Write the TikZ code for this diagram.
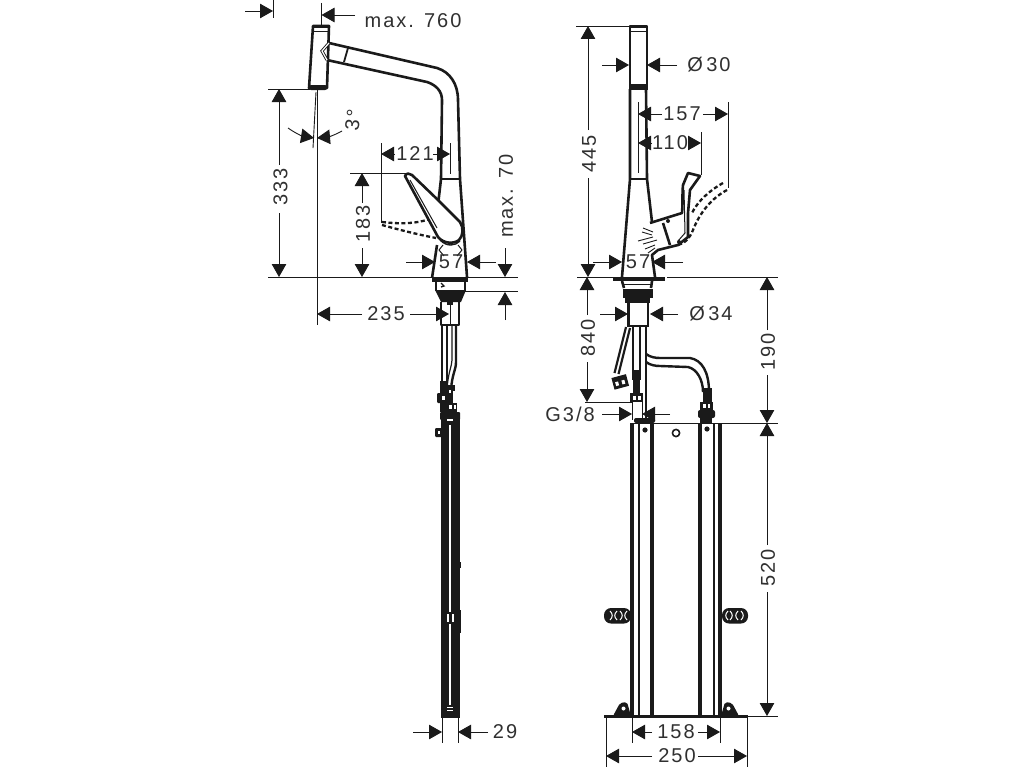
\documentclass[tikz,border=0pt]{standalone}
\usepackage{fontspec}
\setmainfont[LetterSpace=10]{Liberation Sans}
\usetikzlibrary{arrows.meta}
\definecolor{ink}{HTML}{1A1A1A}
\definecolor{txt}{HTML}{303030}
\tikzset{
 arr/.style={draw=ink,line width=0.9pt,-{Triangle[length=13pt,width=14.5pt,fill=ink]}},
 extl/.style={draw=ink,line width=0.9pt},
 thick2/.style={draw=ink,line width=2.6pt,line join=round},
 thin1/.style={draw=ink,line width=1pt},
 dash2/.style={draw=ink,line width=2.3pt,dash pattern=on 4pt off 2.5pt},
 dt/.style={text=txt,font=\fontsize{20}{20}\selectfont,inner sep=0pt,anchor=center},
 dv/.style={dt,rotate=90},
}
\begin{document}
\begin{tikzpicture}[x=1pt,y=-1pt]
\useasboundingbox (0,0) rectangle (1024,768);
\fill[white] (0,0) rectangle (1024,768);

% ============ LEFT VIEW ============
% spout
\draw[thick2] (329,43) -- (437,68) .. controls (450,72) and (458,84) .. (458,100) -- (460,179) -- (467,277);
\draw[thick2] (327,60) -- (427,82) .. controls (436,85) and (442,91) .. (442,100) -- (441,179) -- (438,205);
\draw[thick2] (437,245) -- (432,278);
\draw[thick2] (442,179) -- (460,179);
\draw[draw=ink,line width=1.8pt] (348,48) -- (344,62);
% head
\draw[thick2] (313,26) -- (329,26) -- (327,88) -- (309,88) -- cycle;
\fill[ink] (312.5,25) rectangle (329.5,28);
\draw[thin1] (313,32) -- (329,32);
\fill[ink,rounded corners=2pt] (309,85) rectangle (327,90);
\draw[draw=ink,line width=3pt] (329,43) -- (322,51) -- (327,60);
\draw[draw=white,line width=1.2pt] (329,43) -- (322,51) -- (327,60);
% lever
\draw[dash2] (382,222) .. controls (400,224) and (415,224) .. (430,219);
\draw[dash2] (382,225) .. controls (400,230) and (420,235) .. (436,238);
\draw[thick2,fill=white] (405,176) .. controls (406,173) and (410,173) .. (412,175) -- (438,200) -- (460,222) .. controls (464,228) and (463,236) .. (459,240) .. controls (454,244) and (444,244) .. (438,237) -- cycle;
\draw[draw=ink,line width=1pt] (410,180) -- (437,228);
\draw[draw=ink,line width=1.4pt] (440,240) .. controls (447,247) and (455,246) .. (460,241);
% base
\draw[draw=ink,line width=1pt] (439,250) -- (444,256) (439,250) -- (443,245) (462,250) -- (457,256) (462,250) -- (458,245);
\fill[ink] (432,277) rectangle (468,282);
\draw[thick2] (436,281) -- (436,291) (465,281) -- (465,291);
\draw[draw=ink,line width=1.4pt] (441,283) -- (444,286) -- (441,287);
\fill[ink] (435,290) -- (466,290) -- (461,302) -- (441,302) -- cycle;
\fill[ink] (447,302) rectangle (453,305);
\draw[thick2] (441,302) -- (441,325) -- (459,325) -- (459,302);
\draw[thin1] (450,302) -- (450,325);
% hoses
\draw[draw=ink,line width=2.6pt] (442,325) -- (442,390) (447,325) -- (447,390);
\draw[draw=ink,line width=2.4pt] (456,325) -- (456,362) .. controls (456,370) and (452,374) .. (451,390);
\draw[draw=ink,line width=1.2pt] (452,325) -- (452,360) .. controls (452,366) and (448,372) .. (447,390);
% connectors left view
\fill[ink] (440,381) rectangle (448,412);
\fill[ink] (448,385) rectangle (455,391);
\fill[ink,rounded corners=1pt] (437,393) rectangle (446,403);
\fill[white] (442,396) rectangle (445,399.5);
\fill[ink] (447,391) rectangle (453,403);
\fill[white] (449,390) rectangle (451,393);
\fill[ink] (446,403) rectangle (457,413);
\fill[white] (449,405) rectangle (451.5,409);
\fill[white] (453.5,405) rectangle (455.5,409);
\fill[ink,rounded corners=1pt] (440,412) rectangle (460,420);
% long column
\fill[ink] (440.5,417) rectangle (460,718);
\fill[ink,rounded corners=1pt] (435,428) rectangle (442,437);
\fill[white] (438,431) rectangle (440,434);
\fill[ink] (459,610) rectangle (461,633);
\fill[ink] (459,562) rectangle (461,568);
\draw[draw=white,line width=1.4pt] (450,425) -- (450,705);
\fill[ink] (446,612) rectangle (455,624);
\fill[white] (447,614) rectangle (449,622);
\fill[white] (451.5,614) rectangle (453.5,622);
\fill[white] (447,706.5) rectangle (453,708);
\fill[white] (447,709.5) rectangle (453,711);
\fill[white] (447,419) rectangle (453,420.5);

% ---- left dimensions ----
\draw[extl] (268,277) -- (433,277) (467,277) -- (518,277);
\draw[extl] (465,291) -- (518,291);
\draw[extl] (273,0) -- (273,18);
\draw[extl] (321.5,3) -- (321.5,25);
\draw[arr] (245,11) -- (273,11);
\draw[arr] (355,15) -- (321.5,15);
\node[dt] (tmax) at (413,21) {max. 760};
% 333
\draw[extl] (268,89) -- (310,89);
\draw[arr] (279,165) -- (279,89);
\draw[arr] (279,213) -- (279,277);
\node[dv] (t333) at (280.5,187) {333};
% angle lines
\draw[extl] (317,90) -- (317,325);
\draw[extl] (316,92) -- (313,148);
\draw[arr] (288,128) .. controls (295,133) and (302,136) .. (314,138);
\draw[arr] (342,131) .. controls (335,135) and (328,137) .. (317,138);
\node[dv,rotate=-8] (tdeg) at (353,120) {3°};
% 121
\draw[extl] (381,143) -- (381,223) (450,143) -- (450,174);
\draw[arr] (394,154) -- (381,154);
\draw[arr] (433,154) -- (450,154);
\node[dt] (t121) at (415,154) {121};
% 183
\draw[extl] (350,173) -- (406,173);
\draw[arr] (362,203) -- (362,173);
\draw[arr] (362,248) -- (362,277);
\node[dv] (t183) at (363,224) {183};
% 57
\draw[arr] (406,262) -- (435,262);
\draw[arr] (496,262) -- (467,262);
\node[dt] (t57a) at (451,262) {57};
% max 70
\draw[arr] (505,248) -- (505,277);
\draw[arr] (505,320) -- (505,292);
\node[dv] (t70) at (506,196) {max. 70};
% 235
\draw[arr] (362,314) -- (317,314);
\draw[arr] (410,314) -- (449,314);
\node[dt] (t235) at (386,314) {235};
% 29
\draw[extl] (442,718) -- (442,743) (458,718) -- (458,743);
\draw[arr] (413,732) -- (442,732);
\draw[arr] (488,732) -- (458,732);
\node[dt] (t29) at (505,732) {29};

% ============ RIGHT VIEW ============
% head
\draw[thick2] (630,26) -- (647,26) -- (647,87) -- (630,87) -- cycle;
\fill[ink] (630,25) rectangle (647,28);
\draw[thin1] (630,32) -- (647,32);
\fill[ink] (629,84) rectangle (648,90);
% body
\draw[thick2] (630,89) -- (630,179) -- (622,277);
\draw[thick2] (646,89) -- (647,179) -- (652,222);
\draw[thick2] (630,179) -- (647,179);
\draw[thin1] (638,102) -- (638,173);
% handle
\draw[dash2] (723,183) .. controls (710,190) and (697,202) .. (692,213);
\draw[dash2] (727,190) .. controls (712,198) and (700,212) .. (693,230) .. controls (690,238) and (684,244) .. (678,245);
\draw[thick2] (650,223) -- (682,213) .. controls (683,200) and (682,195) .. (683,185) -- (688,173) -- (700,176) -- (690,190) -- (688,213) -- (688,237) -- (678,245) -- (658,250) -- (652,255) -- (655,277);
\draw[thin1] (684,190) -- (685,233) -- (678,241);
\draw[thick2] (663,223) -- (670,245);
\fill[ink] (668,221) circle (2pt);
\fill[ink] (679,242) circle (2pt);
% spray strokes
\draw[draw=ink,line width=0.9pt] (643,228) -- (653,232) (642,232) -- (652,235) (638,241) -- (653,237) (643,244) -- (657,240) (645,249) -- (655,245) (648,253) -- (655,248);
% base
\fill[ink] (613,276.5) rectangle (665,281);
\draw[thick2] (622,281) -- (624,288) (652,281) -- (651,288);
\draw[thin1] (622,284) -- (652,284);
\fill[ink] (623,289) rectangle (653,298);
\fill[ink] (625,298) rectangle (650,303);
\draw[draw=ink,line width=2.4pt] (628.5,303) -- (628.5,326) -- (648,326) -- (648,303);
% hoses
\draw[draw=ink,line width=2pt] (633,326) -- (633,380) (640,326) -- (640,380);
\fill[ink] (633,370) rectangle (640,393);
\draw[draw=ink,line width=2.4pt] (646,326) -- (646,418);
\draw[draw=ink,line width=2.2pt] (630,328) -- (618.5,374) (626,327) -- (614.5,373);
% left nut tilted
\fill[ink,rotate around={15:(620,383)}] (613,376) rectangle (628,388);
\fill[white,rotate around={15:(620,383)}] (615.5,381) rectangle (618.5,385);
\fill[white,rotate around={15:(620,383)}] (622,381) rectangle (625,385);
% middle nut
\fill[ink] (630,393) rectangle (643,402);
\fill[white] (633,396) rectangle (635.5,400);
\fill[white] (638,396) rectangle (641,400);
% pipe
\draw[draw=ink,line width=2.4pt] (646,354) .. controls (650,357) and (655,358) .. (660,358) -- (690,358) .. controls (702,360) and (709,372) .. (709,392);
\draw[draw=ink,line width=2.4pt] (646,362) .. controls (650,365) and (655,366) .. (660,366) -- (688,367) .. controls (697,369) and (703,380) .. (703,392);
% right nut
\fill[ink] (703,388) rectangle (712,402);
\fill[ink] (700,402) rectangle (713,410);
\fill[white] (703,404) rectangle (705.5,408);
\fill[white] (707.5,404) rectangle (710,408);
\fill[ink,rounded corners=2pt] (698,410) rectangle (715,418);
\fill[ink] (700,418) rectangle (712,423);
% centre nut
\fill[ink,rounded corners=2pt] (634,418) rectangle (655,423);
% box
\draw[draw=ink,line width=1.8pt] (631,423.5) -- (722,423.5);
\draw[draw=ink,line width=3.2pt] (632,423) -- (632,716);
\draw[draw=ink,line width=1.4pt] (639,423) -- (639,716);
\draw[draw=ink,line width=3.6pt] (652,423) -- (652,716);
\draw[draw=ink,line width=3.6pt] (700,423) -- (700,716);
\draw[draw=ink,line width=1.4pt] (714,423) -- (714,716);
\draw[draw=ink,line width=3.2pt] (720,423) -- (720,716);
\fill[ink] (645,430) circle (2.6pt);
\fill[ink] (707,429) circle (2.6pt);
\draw[draw=ink,line width=1.6pt] (676,433) circle (3.6pt);
% side handles
\fill[ink,rounded corners=7pt] (604,608) rectangle (631,623.5);
\fill[ink,rounded corners=7pt] (722,608) rectangle (748,623.5);
\draw[draw=white,line width=1pt] (610,611) .. controls (613,614) and (613,617) .. (610,620) (617,611) .. controls (614,614) and (614,617) .. (617,620) (620,611) .. controls (623,614) and (623,617) .. (620,620) (627,611) .. controls (624,614) and (624,617) .. (627,620);
\draw[draw=white,line width=1pt] (728,611) .. controls (725,614) and (725,617) .. (728,620) (730,611) .. controls (733,614) and (733,617) .. (730,620) (738,611) .. controls (735,614) and (735,617) .. (738,620) (741,611) .. controls (744,614) and (744,617) .. (741,620);
% bottom plate and feet
\fill[ink] (604,714.5) rectangle (748,717.5);
\fill[ink,rounded corners=2pt] (613,716) -- (620,703) -- (627,702) -- (631,716) -- cycle;
\fill[white] (623.5,708.5) circle (2pt);
\fill[ink,rounded corners=2pt] (739,716) -- (732,703) -- (725,702) -- (721,716) -- cycle;
\fill[white] (728.5,708.5) circle (2pt);

% ---- right dimensions ----
\draw[extl] (576,26) -- (630,26);
\draw[arr] (588,130) -- (588,26);
\draw[arr] (588,178) -- (588,277);
\node[dv] (t445) at (589,154) {445};
\draw[arr] (602,65) -- (629,65);
\draw[arr] (677,65) -- (647,65);
\node[dt] (t30) at (709,65) {Ø\,30};
% 157, 110
\draw[extl] (728,102) -- (728,188);
\draw[extl] (701,132) -- (701,175);
\draw[arr] (662,114) -- (638,114);
\draw[arr] (703,114) -- (728,114);
\node[dt] (t157) at (682,114) {157};
\draw[arr] (652,143) -- (638,143);
\draw[arr] (688,143) -- (701,143);
\node[dt] (t110) at (670,143) {110};
% 57
\draw[arr] (593,262) -- (622,262);
\draw[arr] (683,262) -- (652,262);
\node[dt] (t57b) at (638,262) {57};
% baseline
\draw[extl] (577,277) -- (614,277);
\draw[extl] (667,277) -- (778,277);
% 840
\draw[arr] (587,315) -- (587,277);
\draw[arr] (587,362) -- (587,402);
\node[dv] (t840) at (588,338) {840};
\draw[extl] (585,402) -- (632,402);
% 34
\draw[arr] (600,314) -- (628,314);
\draw[arr] (678,314) -- (650,314);
\node[dt] (t34) at (711,314) {Ø\,34};
% G3/8
\draw[arr] (602,414) -- (632,414);
\draw[arr] (670,414) -- (642,414);
\draw[extl] (632,402) -- (632,420) (642,402) -- (642,420);
\node[dt] (tg) at (570,414) {G3/8};
% 190, 520
\draw[extl] (722,423) -- (778,423);
\draw[arr] (767,330) -- (767,277);
\draw[arr] (767,375) -- (767,423);
\node[dv] (t190) at (768,352) {190};
\draw[arr] (767,545) -- (767,423);
\draw[arr] (767,592) -- (767,716);
\node[dv] (t520) at (768,568) {520};
\draw[extl] (722,716) -- (778,716);
% 158, 250
\draw[extl] (632,716) -- (632,743) (720,716) -- (720,743);
\draw[arr] (652,732) -- (632,732);
\draw[arr] (698,732) -- (720,732);
\node[dt] (t158) at (676,732) {158};
\draw[extl] (606,717) -- (606,767) (747,717) -- (747,767);
\draw[arr] (652,756) -- (606,756);
\draw[arr] (698,756) -- (747,756);
\node[dt] (t250) at (677,756) {250};
\end{tikzpicture}
\end{document}
